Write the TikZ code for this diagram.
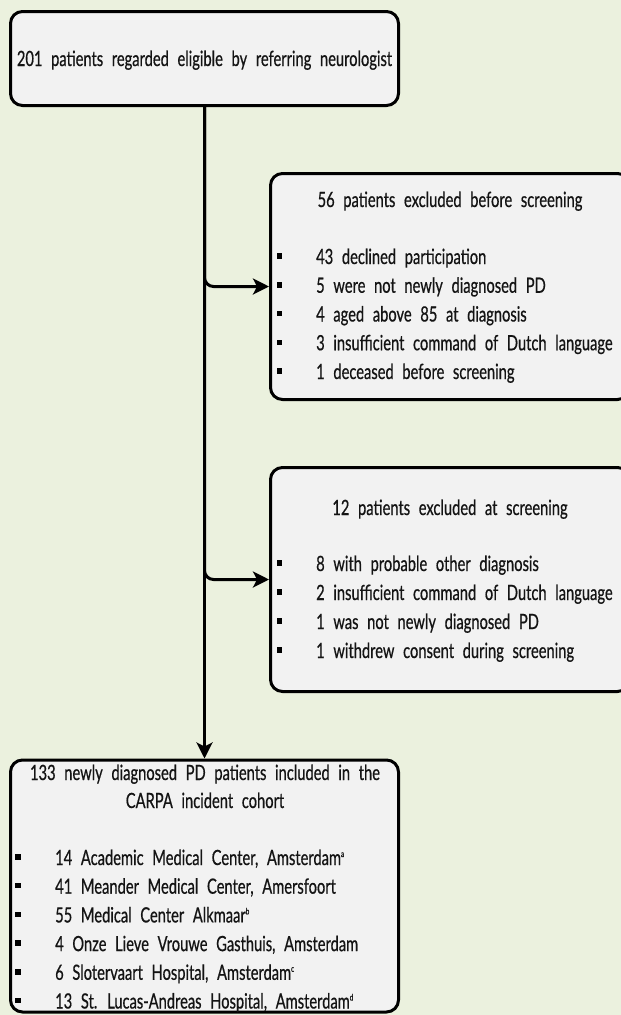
\documentclass[tikz,border=0pt]{standalone}
\usepackage{fontspec}
\setmainfont{Lato}[FakeStretch=0.70,WordSpace=2.3,FakeBold=0.6]
\usetikzlibrary{arrows.meta}
\definecolor{bgc}{HTML}{EBF1DE}
\definecolor{boxc}{HTML}{F2F2F2}
\tikzset{
  flowbox/.style={draw=black, line width=3pt, fill=boxc, rounded corners=12pt, rectangle, inner sep=0pt},
  txt/.style={inner sep=0pt, font=\fontsize{21}{25}\selectfont, text=black!92},
  bul/.style={fill=black, minimum size=5.5pt, inner sep=0pt, rectangle},
  conn/.style={line width=3pt, -{Stealth[length=16pt,width=16pt,inset=4pt]}},
}
\newcommand{\supr}[1]{\raisebox{8pt}{\fontsize{9}{9}\selectfont #1}}
\begin{document}
\begin{tikzpicture}[x=1pt,y=-1pt]
\fill[bgc] (0,0) rectangle (621,1015);
\useasboundingbox (0,0) rectangle (621,1015);
% boxes
\node[flowbox, minimum width=388pt, minimum height=94pt] (top) at (204.5,58.5) {};
\node[flowbox, minimum width=359pt, minimum height=226pt] (b2) at (450,286.5) {};
\node[flowbox, minimum width=359pt, minimum height=224pt] (b3) at (450,579.5) {};
\node[flowbox, minimum width=388pt, minimum height=252pt] (b4) at (204.5,886) {};
% connectors
\draw[conn] (top.south) -- (b4.north);
\draw[conn, rounded corners=9pt] (top.south) |- (b2.west);
\draw[conn, rounded corners=9pt] (top.south) |- (b3.west);
% texts
\node[txt, anchor=base] (t1) at (204.5,66) {201 patients regarded eligible by referring neurologist};
\node[txt, anchor=base] (t2) at (450,207) {56 patients excluded before screening};
\foreach \i/\s in {0/43 declined participation, 1/5 were not newly diagnosed PD, 2/4 aged above 85 at diagnosis, 3/3 insufficient command of Dutch language, 4/1 deceased before screening}{
  \node[bul] (b2b\i) at (279.5,264-8+28.75*\i) {};
  \node[txt, anchor=base west] (b2t\i) at (316,264+28.75*\i) {\s};
}
\node[txt, anchor=base] (t3) at (450,515) {12 patients excluded at screening};
\foreach \i/\s in {0/8 with probable other diagnosis, 1/2 insufficient command of Dutch language, 2/1 was not newly diagnosed PD, 3/1 withdrew consent during screening}{
  \node[bul] (b3b\i) at (279.5,571-8+29*\i) {};
  \node[txt, anchor=base west] (b3t\i) at (316,571+29*\i) {\s};
}
\node[txt, anchor=base] (t4a) at (205,780) {133 newly diagnosed PD patients included in the};
\node[txt, anchor=base] (t4b) at (205,808) {CARPA incident cohort};
\foreach \i/\s in {0/{14 Academic Medical Center, Amsterdam\supr{a}}, 1/41 Meander Medical Center{,} Amersfoort, 2/{55 Medical Center Alkmaar\supr{b}}, 3/{4 Onze Lieve Vrouwe Gasthuis, Amsterdam}, 4/{6 Slotervaart Hospital, Amsterdam\supr{c}}, 5/{13 St. Lucas-Andreas Hospital, Amsterdam\supr{d}}}{
  \node[bul] (b4b\i) at (18,865-8+28.7*\i) {};
  \node[txt, anchor=base west] (b4t\i) at (55,865+28.7*\i) {\s};
}
\end{tikzpicture}
\end{document}
